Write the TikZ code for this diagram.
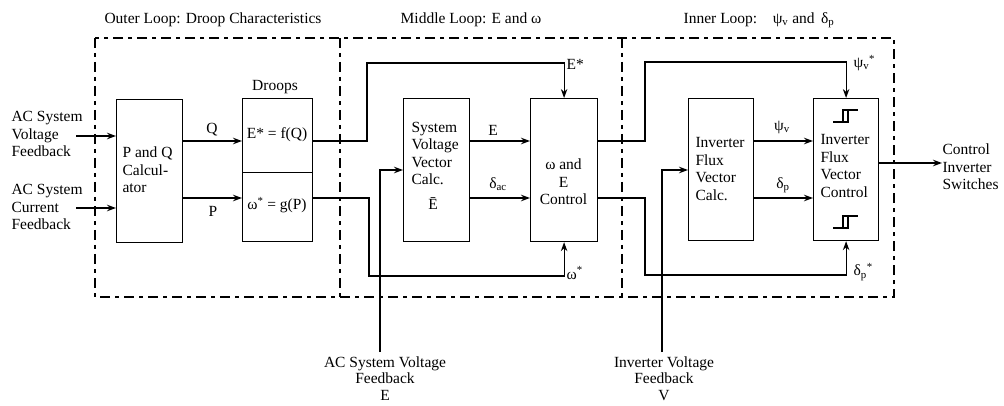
\documentclass[tikz,border=0pt]{standalone}
\usepackage{fontspec}
\setmainfont{Liberation Serif}
\usetikzlibrary{arrows.meta}
\begin{document}
\begin{tikzpicture}[x=1pt,y=-1pt,
  line width=1.1pt,
  >={Stealth[length=9pt,width=6.5pt]},
  blk/.style={draw, line width=1.2pt, anchor=north west, inner sep=0pt},
  txt/.style={font=\fontsize{15.5}{17.5}\selectfont, inner sep=0pt},
  btxt/.style={font=\fontsize{15.5}{16.5}\selectfont, inner sep=0pt},
  loopline/.style={line width=1.1pt, dash pattern=on 10pt off 5pt on 4pt off 5pt},
  sig/.style={->, line width=1.2pt}]
\useasboundingbox (0,0) rectangle (1004,406);

% titles
\node[txt] (t1) at (213,20) {Outer Loop: Droop Characteristics};
\node[txt] (t2) at (471,20) {Middle Loop: E and ω};
\node[txt] (t3) at (759,20) {Inner Loop:\quad ψ\textsubscript{v} and\, δ\textsubscript{p}};

% loop frames
\draw[loopline] (95,38) rectangle (894,297);
\draw[loopline] (340,38) -- (340,297);
\draw[loopline] (622,38) -- (622,297);

% blocks
\node[blk, minimum width=66, minimum height=143] (pq) at (116,99) {};
\node[blk, minimum width=70, minimum height=74] (dq) at (242,98) {};
\node[blk, minimum width=70, minimum height=69] (dp) at (242,172) {};
\node[blk, minimum width=66, minimum height=143] (svv) at (403,98) {};
\node[blk, minimum width=67, minimum height=143] (we) at (530,98) {};
\node[blk, minimum width=65, minimum height=142] (ifc) at (688,98) {};
\node[blk, minimum width=65, minimum height=142] (ifv) at (813,98) {};

% block texts
\node[txt, align=left, anchor=west] (pqt) at (122,170) {P and Q\\Calcul-\\ator};
\node[txt] (drt) at (275,87) {Droops};
\node[txt] (dqt) at (277,135) {E* = f(Q)};
\node[txt] (dpt) at (277,205) {ω\textsuperscript{*} = g(P)};
\node[txt, align=left, anchor=west] (svvt) at (411,153.5) {System\\Voltage\\Vector\\Calc.};
\node[txt] (svve) at (433,204) {Ē};
\node[txt, align=center] (wet) at (563.5,182) {ω and\\E\\Control};
\node[txt, align=left, anchor=west] (ifct) at (695,169) {Inverter\\Flux\\Vector\\Calc.};
\node[txt, align=left, anchor=west] (ifvt) at (820,166) {Inverter\\Flux\\Vector\\Control};

% hysteresis symbols
\draw[line width=1.4pt] (833,122) -- (848,122) -- (848,110);
\draw[line width=1.4pt] (843,122) -- (843,110) -- (858,110);
\draw[line width=1.4pt] (833,228) -- (848,228) -- (848,216);
\draw[line width=1.4pt] (843,228) -- (843,216) -- (858,216);

% left inputs
\node[txt, align=left, anchor=west] (acv) at (11,134) {AC System\\Voltage\\Feedback};
\node[txt, align=left, anchor=west] (aci) at (11,207) {AC System\\Current\\Feedback};
\coordinate (acvs) at (76,136);
\coordinate (acis) at (76,208);
\draw[sig] (acvs) -- (pq.west |- acvs);
\draw[sig] (acis) -- (pq.west |- acis);

% signal levels
\coordinate (yA) at (0,141);
\coordinate (yB) at (0,198);

% outer loop
\draw[sig] (pq.east |- yA) -- (dq.west |- yA);
\draw[sig] (pq.east |- yB) -- (dp.west |- yB);
\node[txt] (ql) at (212,130) {Q};
\node[txt] (pl) at (213,211) {P};

% references to middle loop
\draw[sig] (dq.east |- yA) -- (367,141) -- (367,63) -- (we.north |- 0,63) -- (we.north);
\draw[sig] (dp.east |- yB) -- (369,198) -- (369,276) -- (we.south |- 0,276) -- (we.south);
\node[txt, anchor=west] (esl) at (566,64) {E*};
\node[txt, anchor=west] (wsl) at (566,273) {ω\textsuperscript{*}};

% system voltage feedback
\node[btxt, align=center, anchor=north] (acvb) at (385,356) {AC System Voltage\\Feedback\\E};
\coordinate (acvbs) at (380,352);
\draw[sig] (acvbs) -- (380,170) -- (svv.west |- 0,170);

% middle loop
\draw[sig] (svv.east |- yA) -- (we.west |- yA);
\draw[sig] (svv.east |- yB) -- (we.west |- yB);
\node[txt] (el) at (493,130) {E};
\node[txt] (dacl) at (498,184) {δ\textsubscript{ac}};

% references to inner loop
\draw[sig] (we.east |- yA) -- (645,141) -- (645,62) -- (ifv.north |- 0,62) -- (ifv.north);
\draw[sig] (we.east |- yB) -- (645,198) -- (645,275) -- (ifv.south |- 0,275) -- (ifv.south);
\node[txt, anchor=west] (psl) at (853,63) {ψ\textsubscript{v}\textsuperscript{*}};
\node[txt, anchor=west] (dsl) at (853,272) {δ\textsubscript{p}\textsuperscript{*}};

% inverter voltage feedback
\node[btxt, align=center, anchor=north] (ivb) at (664,356) {Inverter Voltage\\Feedback\\V};
\coordinate (ivbs) at (662,352);
\draw[sig] (ivbs) -- (662,170) -- (ifc.west |- 0,170);

% inner loop
\draw[sig] (ifc.east |- yA) -- (ifv.west |- yA);
\draw[sig] (ifc.east |- yB) -- (ifv.west |- yB);
\node[txt] (psil) at (782,127) {ψ\textsubscript{v}};
\node[txt] (dpl) at (783,185) {δ\textsubscript{p}};

% output
\node[txt, align=left, anchor=west] (out) at (942,167) {Control\\Inverter\\Switches};
\draw[sig] (ifv.east |- 0,163) -- (out.west |- 0,163);
\end{tikzpicture}
\end{document}
